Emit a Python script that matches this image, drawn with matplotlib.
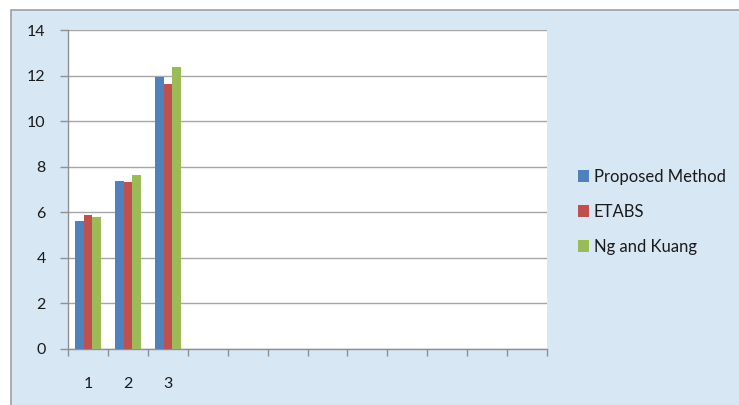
import matplotlib
matplotlib.use("Agg")
import matplotlib.pyplot as plt
from matplotlib.patches import Rectangle
import numpy as np

plt.rcParams['font.family'] = ['Lato', 'DejaVu Sans']

categories = ["1", "2", "3", "", "", "", "", "", "", "", "", ""]
series_names = ["Proposed Method", "ETABS", "Ng and Kuang"]
proposed = [5.6, 7.37, 11.95]
etabs = [5.9, 7.32, 11.62]
ng_kuang = [5.8, 7.63, 12.36]
colors = ["#4F81BD", "#C0504D", "#9BBB59"]
yticks = [0, 2, 4, 6, 8, 10, 12, 14]

W, H = 739, 405
fig = plt.figure(figsize=(W / 100, H / 100), dpi=100)
fig.patch.set_facecolor("white")
bg = Rectangle((11 / W, -0.02), 1.05, 1 - 10 / H + 0.02, transform=fig.transFigure,
               facecolor="#d8e7f4", edgecolor="#a0a0a0", linewidth=1.2, zorder=-10)
fig.patches.append(bg)

ax = fig.add_axes([68 / W, (H - 349) / H, (547 - 68) / W, (349 - 30) / H])
ax.set_facecolor("white")

n = len(categories)
x = np.arange(n)
bw = 0.215
for i, (vals, name, c) in enumerate(zip([proposed, etabs, ng_kuang], series_names, colors)):
    xs = np.arange(len(vals)) + (i - 1) * bw
    ax.bar(xs, vals, width=bw, color=c, label=name, zorder=3, linewidth=0)

ax.set_xlim(-0.5, n - 0.5)
ax.set_ylim(0, 14)
ax.set_yticks(yticks)
ax.set_yticklabels([str(v) for v in yticks], fontsize=11.5, color="#1a1a1a")
ax.yaxis.grid(True, color="#a6a6a6", linewidth=1.0, zorder=0)
ax.set_axisbelow(True)

ax.set_xticks(x)
ax.set_xticklabels(categories, fontsize=11.5, color="#1a1a1a")
ax.tick_params(axis="x", which="major", length=0, pad=20)
ax.set_xticks(np.arange(-0.5, n, 1.0), minor=True)
ax.tick_params(axis="x", which="minor", length=5, color="#909090", width=1)
ax.tick_params(axis="y", length=6, color="#909090", width=1, pad=10)

for s in ["top", "right"]:
    ax.spines[s].set_visible(False)
for s in ["left", "bottom"]:
    ax.spines[s].set_color("#909090")
    ax.spines[s].set_linewidth(1.0)

handles, labels = ax.get_legend_handles_labels()
fig.legend(handles, labels, loc="center left", bbox_to_anchor=(571 / W, 1 - 212 / H),
           frameon=False, fontsize=12, handlelength=0.7, handleheight=0.7,
           handletextpad=0.25, labelspacing=1.15, borderaxespad=0,
           labelcolor="#1a1a1a")

fig.savefig("out.png", dpi=100)
